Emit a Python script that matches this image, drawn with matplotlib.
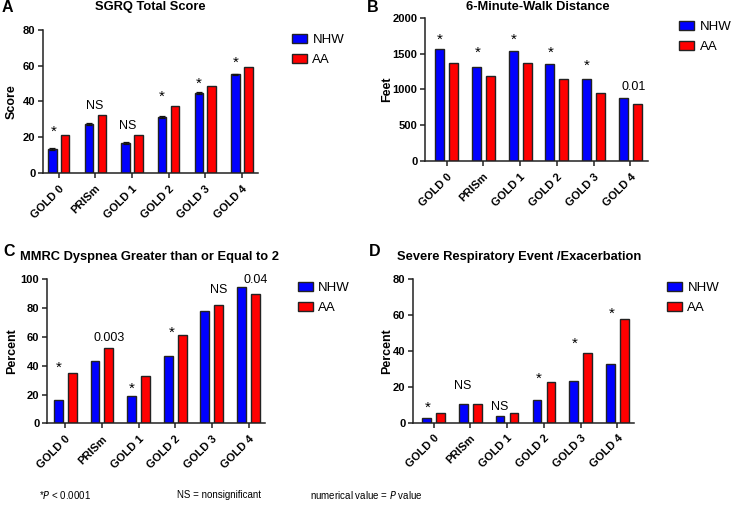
import matplotlib
matplotlib.use("Agg")
import matplotlib.pyplot as plt
import numpy as np

plt.rcParams['font.family'] = ['Liberation Sans', 'DejaVu Sans']

categories = ["GOLD 0", "PRISm", "GOLD 1", "GOLD 2", "GOLD 3", "GOLD 4"]
groups = ["NHW", "AA"]

sgrq_nhw = [13.5, 27.3, 16.8, 31.4, 44.8, 55.2]
sgrq_nhw_err = [0.4, 0.4, 0.5, 0.5, 0.4, 0.4]
sgrq_aa = [21.1, 32.7, 21.5, 37.3, 48.9, 59.2]
sgrq_marks = ["*", "NS", "NS", "*", "*", "*"]
sgrq_mark_y = [26.0, 38.1, 27.0, 45.6, 52.7, 64.6]

walk_nhw = [1571, 1319, 1543, 1352, 1142, 886]
walk_aa = [1371, 1189, 1366, 1147, 956, 793]
walk_marks = ["*", "*", "*", "*", "*", "0.01"]
walk_mark_y = [1767, 1580, 1767, 1580, 1394, 1053]

mmrc_nhw = [16, 43, 19, 47, 78, 95]
mmrc_aa = [35, 52, 33, 61, 82, 90]
mmrc_marks = ["*", "0.003", "*", "*", "NS", "0.04"]
mmrc_mark_y = [41.7, 60.6, 27.3, 66.0, 93.8, 100.7]

exac_nhw = [2.8, 10.6, 3.7, 12.8, 23, 32.7]
exac_aa = [5.6, 10.6, 5.6, 22.6, 38.6, 57.5]
exac_marks = ["*", "NS", "NS", "*", "*", "*"]
exac_mark_y = [10.8, 21.0, 9.8, 26.9, 46.9, 63.3]

BLUE = "#0000FF"
RED = "#FF0000"

fig = plt.figure(figsize=(7.33, 5.11), dpi=100)

panels = [
    dict(rect=[43/733, 1-173/511, 215/733, 143/511], nhw=sgrq_nhw, aa=sgrq_aa, err=sgrq_nhw_err,
         marks=sgrq_marks, mark_y=sgrq_mark_y, mark_dx=[-0.13, -0.02, -0.11, -0.18, -0.17, -0.17],
         ylim=(0, 80), yticks=[0, 20, 40, 60, 80], ylabel="Score", xlim=(-0.43, 5.44),
         title="SGRQ Total Score", title_xy=(150/733, 1-7/511), title_ha="center",
         letter="A", letter_xy=(2/733, 1-8/511), width=0.23, off=0.175,
         leg=(1.158, 0.972), ylab_x=12/733),
    dict(rect=[425/733, 1-161/511, 223/733, 143/511], nhw=walk_nhw, aa=walk_aa, err=None,
         marks=walk_marks, mark_y=walk_mark_y, mark_dx=[-0.18, -0.16, -0.18, -0.16, -0.18, 0.09],
         ylim=(0, 2000), yticks=[0, 500, 1000, 1500, 2000], ylabel="Feet", xlim=(-0.59, 5.48),
         title="6-Minute-Walk Distance", title_xy=(538/733, 1-7/511), title_ha="center",
         letter="B", letter_xy=(367/733, 1-8/511), width=0.245, off=0.19,
         leg=(1.14, 0.979), ylab_x=387/733),
    dict(rect=[47/733, 1-423.3/511, 218/733, 144/511], nhw=mmrc_nhw, aa=mmrc_aa, err=None,
         marks=mmrc_marks, mark_y=mmrc_mark_y, mark_dx=[-0.19, 0.2, -0.18, -0.1, 0.19, 0.19],
         ylim=(0, 100), yticks=[0, 20, 40, 60, 80, 100], ylabel="Percent", xlim=(-0.5, 5.45),
         title="MMRC Dyspnea Greater than or Equal to 2", title_xy=(20/733, 1-257/511), title_ha="left",
         letter="C", letter_xy=(3/733, 1-252/511), width=0.245, off=0.19,
         leg=(1.151, 0.981), ylab_x=12/733),
    dict(rect=[413/733, 1-422.7/511, 221/733, 143.7/511], nhw=exac_nhw, aa=exac_aa, err=None,
         marks=exac_marks, mark_y=exac_mark_y, mark_dx=[-0.17, -0.21, -0.21, -0.15, -0.16, -0.16],
         ylim=(0, 80), yticks=[0, 20, 40, 60, 80], ylabel="Percent", xlim=(-0.56, 5.45),
         title="Severe Respiratory Event /Exacerbation", title_xy=(397/733, 1-257/511), title_ha="left",
         letter="D", letter_xy=(369/733, 1-252/511), width=0.23, off=0.19,
         leg=(1.149, 0.979), ylab_x=387/733),
]

ann_fs = 9
star_fs = 11
for p in panels:
    ax = fig.add_axes(p["rect"])
    x = np.arange(len(categories))
    w = p["width"]
    ax.bar(x - p["off"], p["nhw"], width=w, color=BLUE, edgecolor="#222222", linewidth=1.0,
           label=groups[0], zorder=2)
    if p["err"] is not None:
        ax.errorbar(x - p["off"], p["nhw"], yerr=p["err"], fmt="none", ecolor="#111111",
                    elinewidth=0.9, capsize=2, capthick=0.9, zorder=3)
    ax.bar(x + p["off"], p["aa"], width=w, color=RED, edgecolor="#222222", linewidth=1.0,
           label=groups[1], zorder=2)
    ax.set_xlim(*p["xlim"])
    ax.set_ylim(*p["ylim"])
    ax.set_yticks(p["yticks"])
    ax.set_xticks(x)
    ax.set_xticklabels(categories, rotation=45, ha="right", rotation_mode="anchor",
                       fontsize=8, fontweight="bold")
    for lbl in ax.get_yticklabels():
        lbl.set_fontsize(8)
        lbl.set_fontweight("bold")
    for s in ["top", "right"]:
        ax.spines[s].set_visible(False)
    for s in ["left", "bottom"]:
        ax.spines[s].set_linewidth(1.1)
        ax.spines[s].set_color("#222222")
    ax.tick_params(axis="both", direction="out", length=3.5, width=1.1, color="#222222", pad=2)
    ax.tick_params(axis="x", pad=4)
    fig.text(p["ylab_x"], p["rect"][1] + p["rect"][3] / 2, p["ylabel"], rotation=90,
             ha="center", va="center", fontsize=9, fontweight="bold")
    for i, (m, yv, dx) in enumerate(zip(p["marks"], p["mark_y"], p["mark_dx"])):
        fs = star_fs if m == "*" else ann_fs
        dy = 0.58 * fs if m == "*" else 0.36 * fs
        ax.annotate(m, xy=(i + dx, yv), xytext=(0, -dy), textcoords="offset points",
                    ha="center", va="baseline", fontsize=fs, annotation_clip=False)
    fig.text(p["title_xy"][0], p["title_xy"][1], p["title"], ha=p["title_ha"], va="center",
             fontsize=9.3, fontweight="bold")
    fig.text(p["letter_xy"][0], p["letter_xy"][1], p["letter"], ha="left", va="center",
             fontsize=11.5, fontweight="bold")
    ax.legend(loc="upper left", bbox_to_anchor=p["leg"], frameon=False, borderaxespad=0,
              borderpad=0, handlelength=1.15, handleheight=0.62, handletextpad=0.4,
              labelspacing=0.6, fontsize=9.5)

fig.text(39/733, 1-495/511, r"*$\it{P}$ < 0.0001", fontsize=7, va="center", ha="left")
fig.text(177/733, 1-495/511, "NS = nonsignificant", fontsize=7, va="center", ha="left")
fig.text(310/733, 1-495/511, r"numerical value = $\it{P}$ value", fontsize=7, va="center", ha="left")

fig.savefig("out.png", dpi=100)
